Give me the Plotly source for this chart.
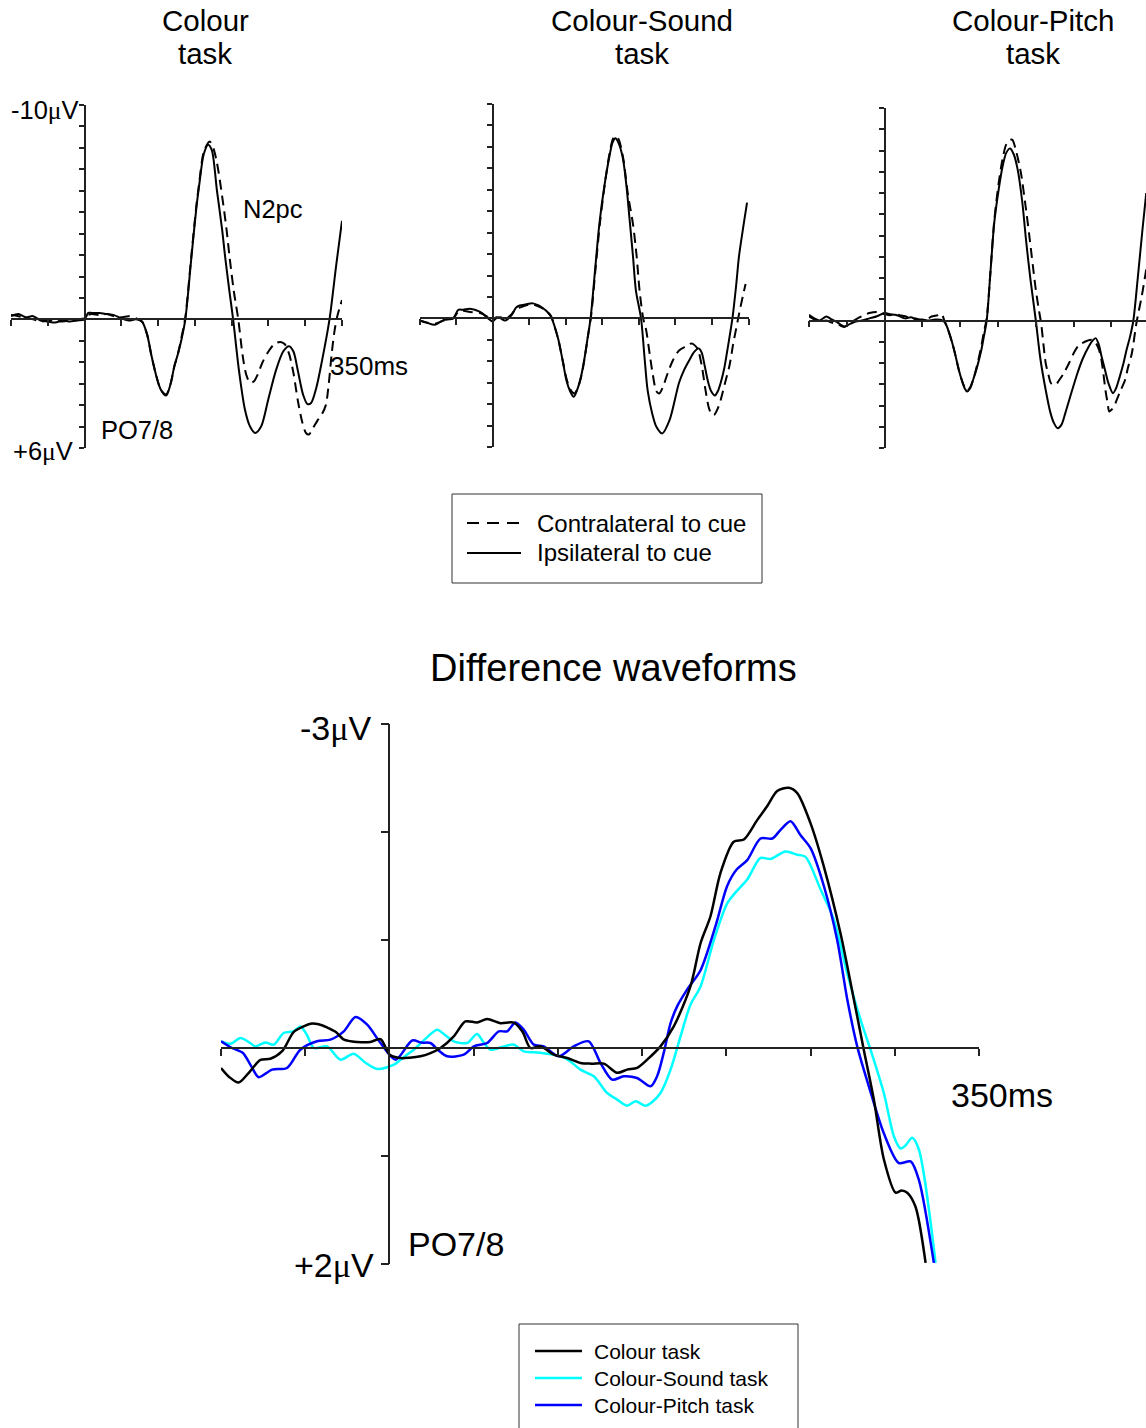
import plotly.graph_objects as go

W, H = 1146, 1428
FONT = "Liberation Sans, Arial, sans-serif"
MU = "<span style=\"font-family:'Liberation Serif'\">\u03bc</span>"

# ---------------- Data: grand-average ERPs at PO7/8 (time in ms, amplitude in microvolts) ----------------
# Colour task
COL_IPSI_T = [-100, -90, -80, -70, -60, -50, -40, -30, -20, -10, 0, 5, 10, 20, 30, 40, 50, 60, 70, 78, 85, 91, 98,
              104, 111, 117, 122, 127, 132, 137, 145, 152, 156, 162, 168, 173, 180, 187, 191, 197, 202, 210, 218, 225,
              232, 240, 250, 260, 270, 278, 284, 290, 297, 303, 308, 315, 323, 333, 342, 350]
COL_IPSI_V = [-0.15, -0.25, -0.1, -0.15, 0.05, 0.1, 0.15, 0.05, 0.1, 0.05, 0.0, -0.3, -0.3, -0.3, -0.25, -0.2, -0.05,
              0.05, 0.0, 0.1, 0.7, 1.7, 2.7, 3.3, 3.55, 3.0, 2.2, 1.6, 0.9, 0.0, -2.8, -5.2, -6.3, -7.7, -8.15, -7.9,
              -6.0, -4.2, -2.95, -1.3, 0.0, 2.4, 4.2, 5.0, 5.3, 5.0, 3.7, 2.4, 1.5, 1.25, 1.5, 2.4, 3.5, 3.95, 3.9, 3.2,
              1.9, 0.0, -2.5, -4.6]
COL_CONTRA_T = [-100, -90, -80, -70, -60, -50, -40, -30, -20, -10, 0, 5, 10, 20, 30, 40, 50, 60, 70, 78, 85, 91, 98,
                104, 111, 117, 122, 127, 132, 137, 145, 152, 156, 162, 170, 175, 180, 186, 193, 197, 203, 209, 215,
                220, 225, 230, 235, 242, 250, 258, 266, 272, 278, 284, 290, 296, 301, 305, 310, 317, 323, 328, 332,
                336, 340, 344, 350]
COL_CONTRA_V = [-0.2, -0.15, -0.05, 0.0, 0.1, 0.05, 0.05, 0.1, 0.05, 0.0, -0.05, -0.2, -0.25, -0.2, -0.25, -0.15,
                -0.1, -0.15, -0.05, 0.1, 0.7, 1.7, 2.7, 3.3, 3.5, 3.0, 2.2, 1.6, 0.8, -0.1, -2.9, -5.3, -6.4, -7.8,
                -8.3, -8.0, -7.3, -6.0, -4.2, -2.95, -1.3, 0.0, 1.7, 2.6, 2.95, 2.9, 2.6, 2.0, 1.5, 1.15, 1.05, 1.15,
                1.6, 2.5, 3.8, 4.8, 5.3, 5.37, 5.1, 4.7, 4.4, 4.0, 3.0, 1.6, 0.5, -0.2, -0.9]

# Colour-Sound task
SND_IPSI_T = [-100, -90, -79, -67, -54, -47, -40, -31, -17, -6, 0, 5, 11, 17, 26, 32, 37, 45, 55, 63, 69, 75, 80, 85,
              90, 96, 101, 106, 111, 116, 121, 126, 130, 134, 140, 146, 153, 160, 164, 168, 172, 178, 183, 187, 192,
              196, 203, 208, 212, 218, 224, 232, 242, 255, 262, 269, 276, 282, 286, 290, 295, 299, 304, 308, 312, 317,
              321, 328, 333, 337, 343, 348]
SND_IPSI_V = [0.08, 0.2, 0.3, 0.08, 0.0, -0.4, -0.4, -0.45, -0.3, 0.0, 0.15, -0.05, 0.0, 0.1, -0.15, -0.5, -0.6,
              -0.65, -0.7, -0.6, -0.47, -0.3, -0.08, 0.4, 1.0, 2.0, 2.9, 3.4, 3.66, 3.3, 2.7, 1.8, 0.9, 0.0, -2.2, -4.4,
              -6.2, -7.6, -8.2, -8.4, -8.2, -7.5, -6.2, -4.75, -2.9, -1.3, 0.0, 1.9, 3.35, 4.4, 5.06, 5.37, 4.75, 3.0,
              2.4, 1.95, 1.55, 1.4, 1.6, 2.2, 3.0, 3.4, 3.6, 3.4, 3.0, 2.3, 1.5, 0.0, -1.5, -2.9, -4.3, -5.4]
SND_CONTRA_T = [-100, -90, -79, -67, -54, -47, -40, -31, -17, -6, 0, 5, 11, 17, 26, 32, 37, 45, 55, 63, 69, 75, 80,
                85, 90, 96, 101, 106, 112, 117, 122, 127, 131, 135, 141, 147, 154, 160, 165, 169, 173, 179, 185, 192,
                197, 201, 206, 210, 215, 219, 224, 228, 233, 238, 246, 255, 265, 272, 280, 286, 291, 296, 300, 303,
                308, 312, 318, 324, 329, 333, 337, 342, 346]
SND_CONTRA_V = [0.1, 0.2, 0.25, 0.1, 0.0, -0.3, -0.35, -0.3, -0.25, -0.05, 0.1, 0.0, -0.05, 0.05, -0.2, -0.45, -0.5,
                -0.6, -0.65, -0.55, -0.45, -0.3, -0.1, 0.4, 1.0, 2.0, 2.8, 3.3, 3.5, 3.2, 2.6, 1.6, 0.7, -0.2, -2.4,
                -4.5, -6.4, -7.7, -8.4, -8.5, -8.3, -7.4, -5.8, -4.4, -2.9, -1.3, 0.0, 0.54, 1.7, 2.6, 3.4, 3.5, 3.2,
                2.7, 2.0, 1.5, 1.3, 1.17, 1.4, 2.2, 3.3, 4.2, 4.5, 4.5, 4.2, 3.8, 3.0, 2.2, 1.2, 0.5, -0.2, -1.0, -1.6]

# Colour-Pitch task
PIT_IPSI_T = [-100, -93, -86, -77, -70, -64, -58, -53, -45, -38, -30, -20, -10, 0, 7, 14, 20, 27, 35, 41, 50, 58, 67,
              75, 80, 84, 89, 93, 98, 102, 106, 109, 113, 117, 123, 128, 131, 135, 140, 145, 151, 156, 161, 166, 171,
              176, 182, 187, 193, 200, 206, 213, 219, 224, 229, 234, 239, 247, 255, 262, 270, 275, 279, 283, 287, 292,
              296, 302, 306, 311, 316, 320, 325, 329, 335, 341, 346]
PIT_IPSI_V = [-0.27, -0.1, 0.0, -0.19, -0.05, 0.05, 0.2, 0.28, 0.15, 0.05, 0.0, -0.1, -0.2, -0.35, -0.3, -0.27, -0.2,
              -0.1, -0.15, -0.06, -0.05, 0.0, -0.05, -0.03, 0.1, 0.44, 1.0, 1.54, 2.3, 2.8, 3.2, 3.34, 3.2, 2.8, 2.1,
              1.38, 0.8, 0.0, -2.3, -4.6, -6.2, -7.25, -7.9, -8.1, -7.8, -7.1, -5.6, -3.8, -1.9, 0.0, 1.8, 3.26, 4.3,
              4.83, 5.07, 4.9, 4.36, 3.4, 2.48, 1.8, 1.22, 0.95, 0.83, 1.1, 1.7, 2.4, 2.95, 3.42, 3.2, 2.64, 2.0, 1.38,
              0.7, 0.0, -2.07, -4.27, -6.0]
PIT_CONTRA_T = [-100, -93, -86, -77, -70, -64, -58, -53, -45, -38, -30, -20, -10, 0, 7, 14, 20, 27, 35, 41, 50, 58,
                62, 70, 75, 80, 84, 89, 93, 98, 102, 106, 109, 113, 117, 123, 128, 131, 135, 140, 145, 151, 156, 161,
                166, 169, 173, 180, 186, 191, 196, 200, 204, 207, 210, 213, 217, 220, 226, 231, 237, 244, 250, 256,
                261, 268, 274, 280, 285, 289, 292, 295, 297, 300, 304, 307, 312, 318, 322, 327, 333, 340, 346]
PIT_CONTRA_V = [-0.2, -0.05, 0.05, 0.0, 0.1, 0.15, 0.25, 0.3, 0.1, -0.05, -0.2, -0.35, -0.4, -0.3, -0.25, -0.3, -0.25,
                -0.2, -0.1, -0.1, 0.0, -0.1, -0.19, -0.25, -0.31, 0.1, 0.44, 1.0, 1.54, 2.3, 2.8, 3.15, 3.3, 3.15, 2.8,
                2.0, 1.2, 0.6, -0.1, -2.3, -4.7, -6.5, -7.6, -8.3, -8.5, -8.5, -8.1, -7.0, -5.5, -4.1, -2.6, -1.44,
                -0.5, 0.13, 1.1, 2.0, 2.6, 2.95, 3.03, 2.8, 2.48, 2.0, 1.54, 1.2, 1.07, 0.95, 0.91, 1.1, 1.54, 2.4,
                3.26, 3.9, 4.28, 4.2, 4.0, 3.73, 3.3, 2.8, 2.2, 1.54, 0.13, -1.13, -2.4]

# Difference waveforms (contralateral minus ipsilateral)
DIFF_COL_T = [-100, -95, -89.5, -83, -76.6, -70.7, -63.7, -56.8, -51, -46.9, -42, -37, -32, -27, -19.2, -11.3, -5.3,
              0.2, 6.5, 12, 18.4, 24, 30.3, 38.2, 45.1, 52, 58, 65.9, 73.8, 79, 83.7, 89.7, 97.6, 105.5, 113.4, 120,
              127.3, 135.2, 141.1, 147, 153, 160.9, 168.8, 178.7, 184.7, 190.6, 196.5, 204.4, 210.4, 218.3, 224.3,
              230.2, 237.1, 242.1, 250, 257.9, 267.8, 275.7, 281.6, 287.6, 293.5, 300.5, 304, 307.4, 312.3, 318.3]
DIFF_COL_V = [0.185, 0.27, 0.32, 0.22, 0.11, 0.10, 0.03, -0.15, -0.2, -0.225, -0.22, -0.19, -0.15, -0.077, -0.056,
              -0.056, -0.083, 0.062, 0.093, 0.09, 0.077, 0.05, 0.0, -0.108, -0.246, -0.237, -0.268, -0.23, -0.235,
              -0.15, 0.0, -0.015, 0.062, 0.093, 0.139, 0.145, 0.145, 0.23, 0.2, 0.185, 0.108, -0.015, -0.2, -0.57,
              -0.97, -1.22, -1.62, -1.91, -1.93, -2.11, -2.24, -2.38, -2.41, -2.36, -2.08, -1.68, -1.06, -0.45, 0.016,
              0.48, 1.03, 1.34, 1.32, 1.34, 1.47, 1.99]
DIFF_SND_T = [-100, -94, -88.5, -83, -79.6, -73.6, -68.7, -62.8, -57, -52.8, -49, -44.9, -37, -29.1, -21.2, -14, -7.3,
              2.6, 8, 14.4, 21, 28.3, 33, 38.2, 46.1, 52, 56, 60, 67.9, 73.8, 79.7, 86, 93.6, 101.5, 107, 113.4, 121.3,
              129.3, 135.2, 141.1, 146.1, 152, 156, 160.9, 166.9, 172.8, 178.7, 184.7, 192.6, 200.5, 206, 212.4,
              220.3, 226.2, 235.1, 242.1, 247, 255.9, 263.8, 271.8, 279.7, 285.6, 293.5, 299.5, 303.4, 306.5, 310.3,
              314.3, 324.2]
DIFF_SND_V = [-0.062, -0.04, -0.093, -0.05, -0.015, -0.052, -0.03, -0.139, -0.154, -0.2, -0.12, 0.0, -0.015, 0.108,
              0.053, 0.139, 0.194, 0.155, 0.09, 0.016, -0.08, -0.17, -0.12, -0.062, -0.046, -0.13, -0.05, 0.016,
              -0.015, -0.031, 0.031, 0.04, 0.053, 0.077, 0.12, 0.2, 0.262, 0.417, 0.478, 0.534, 0.494, 0.534, 0.5,
              0.417, 0.2, -0.108, -0.4, -0.57, -1.0, -1.34, -1.45, -1.56, -1.76, -1.75, -1.82, -1.79, -1.77, -1.47,
              -1.19, -0.69, -0.26, 0.016, 0.417, 0.82, 0.93, 0.9, 0.83, 0.94, 1.99]
DIFF_PIT_T = [-100, -93.5, -87, -82, -77.6, -69.7, -60.8, -52.9, -43, -35, -27.1, -20.2, -13.2, -5.3, 3.6, 13.5, 19,
              24.3, 29, 34.3, 44.1, 50.1, 58, 64.9, 69.9, 74.8, 79.7, 85.7, 91.6, 100.5, 109.4, 118.3, 125.3, 132.2,
              139.1, 147, 155, 158.9, 162.9, 166.9, 170.8, 176.7, 184.7, 193.6, 200.5, 206, 212.4, 220.3, 227.3,
              232.2, 238.1, 244.1, 250, 257.9, 265.8, 271.8, 277.7, 284.6, 293.5, 302.4, 309.4, 314.3, 323.2]
DIFF_PIT_V = [-0.062, 0.0, 0.046, 0.17, 0.27, 0.2, 0.185, 0.016, -0.062, -0.077, -0.154, -0.287, -0.216, -0.046,
              0.108, -0.07, -0.05, -0.046, 0.02, 0.077, 0.062, -0.015, -0.046, -0.154, -0.154, -0.237, -0.17, -0.031,
              -0.015, 0.077, -0.015, -0.062, 0.139, 0.293, 0.262, 0.278, 0.355, 0.262, 0.04, -0.23, -0.385, -0.54,
              -0.72, -1.13, -1.5, -1.65, -1.74, -1.94, -1.94, -2.02, -2.1, -1.97, -1.85, -1.5, -1.0, -0.45, -0.015,
              0.355, 0.79, 1.065, 1.05, 1.22, 1.99]

TOP_TITLES = [("Colour", "task"), ("Colour-Sound", "task"), ("Colour-Pitch", "task")]
TOP_LEGEND = ["Contralateral to cue", "Ipsilateral to cue"]
DIFF_LEGEND = ["Colour task", "Colour-Sound task", "Colour-Pitch task"]
DIFF_COLOURS = ["#000000", "#00FFFF", "#0000FF"]
TIME_TICKS = [-100, -50, 0, 50, 100, 150, 200, 250, 300, 350]
TOP_VOLT_TICKS = list(range(-10, 7))
DIFF_VOLT_TICKS = [-3, -2, -1, 0, 1, 2]


def fx(px):
    return px / W


def fy(py):
    return 1 - py / H


AXCOL = "#222222"
fig = go.Figure()


def add_panel(n, x0, x1, y0, y1, xr, yr, yticks, xticklen, yticklen, lw):
    """Create an axis pair whose horizontal axis crosses at 0 uV and vertical axis at 0 ms."""
    xd = [fx(x0), fx(x1)]
    yd = [fy(y1), fy(y0)]
    xpos = yd[0] + (yd[1] - yd[0]) * (yr[0] - 0) / (yr[0] - yr[1])
    ypos = xd[0] + (xd[1] - xd[0]) * (0 - xr[0]) / (xr[1] - xr[0])
    sfx = "" if n == 1 else str(n)
    fig.layout["xaxis" + sfx] = dict(
        domain=xd, range=xr, anchor="free", position=xpos, showline=True, linecolor=AXCOL,
        linewidth=lw, ticks="outside", ticklen=xticklen, tickwidth=lw, tickcolor=AXCOL,
        tickvals=TIME_TICKS, showticklabels=False, showgrid=False, zeroline=False)
    fig.layout["yaxis" + sfx] = dict(
        domain=yd, range=yr, anchor="free", position=ypos, showline=True, linecolor=AXCOL,
        linewidth=lw, ticks="outside", ticklen=yticklen, tickwidth=lw, tickcolor=AXCOL,
        tickvals=yticks, showticklabels=False, showgrid=False, zeroline=False)
    return "x" + sfx, "y" + sfx


top_geom = [(11, 342, 105, 448, [-100, 350]),
            (419.5, 748.5, 104, 447, [-100, 350]),
            (809, 1146, 108, 448, [-100, 345.7])]
top_data = [(COL_CONTRA_T, COL_CONTRA_V, COL_IPSI_T, COL_IPSI_V),
            (SND_CONTRA_T, SND_CONTRA_V, SND_IPSI_T, SND_IPSI_V),
            (PIT_CONTRA_T, PIT_CONTRA_V, PIT_IPSI_T, PIT_IPSI_V)]

for i, (g, d) in enumerate(zip(top_geom, top_data)):
    xa, ya = add_panel(i + 1, g[0], g[1], g[2], g[3], g[4], [6, -10], TOP_VOLT_TICKS, 6, 5, 1.5)
    fig.add_trace(go.Scatter(x=d[0], y=d[1], mode="lines", xaxis=xa, yaxis=ya, showlegend=False,
                             line=dict(color="black", width=2, dash="10px,6px", shape="spline", smoothing=0.8)))
    fig.add_trace(go.Scatter(x=d[2], y=d[3], mode="lines", xaxis=xa, yaxis=ya, showlegend=False,
                             line=dict(color="black", width=2, shape="spline", smoothing=0.8)))

xa, ya = add_panel(4, 221, 979, 724, 1264, [-100, 350], [2, -3], DIFF_VOLT_TICKS, 7, 8, 1.5)
# cyan first, then blue, then black on top
for t, v, c in [(DIFF_SND_T, DIFF_SND_V, DIFF_COLOURS[1]), (DIFF_PIT_T, DIFF_PIT_V, DIFF_COLOURS[2]),
                (DIFF_COL_T, DIFF_COL_V, DIFF_COLOURS[0])]:
    fig.add_trace(go.Scatter(x=t, y=v, mode="lines", xaxis=xa, yaxis=ya, showlegend=False,
                             line=dict(color=c, width=2.5, shape="spline", smoothing=0.8)))

ann = []


def label(text, x, y, size, xanchor="left"):
    ann.append(dict(text=text, x=fx(x), y=fy(y), xref="paper", yref="paper", xanchor=xanchor,
                    yanchor="middle", showarrow=False, font=dict(family=FONT, size=size, color="black")))


# panel titles
for (l1, l2), cx in zip(TOP_TITLES, [205, 642, 1033]):
    label(l1, cx, 21, 29.5, "center")
    label(l2, cx, 54, 29.5, "center")

label("-10" + MU + "V", 81, 111, 25.5, "right")
label("+6" + MU + "V", 75, 451, 25.5, "right")
label("N2pc", 241, 209, 25.5)
label("350ms", 328, 366, 26)
label("PO7/8", 99, 430, 25.5)

label("Difference waveforms", 613, 668, 38, "center")
label("-3" + MU + "V", 373, 728, 34, "right")
label("+2" + MU + "V", 376, 1265, 34, "right")
label("350ms", 949, 1095, 34)
label("PO7/8", 406, 1244, 34)

shapes = []
# key for the top panels
shapes.append(dict(type="rect", xref="paper", yref="paper", x0=fx(452), x1=fx(762), y0=fy(583), y1=fy(494),
                   line=dict(color="#333333", width=1)))
shapes.append(dict(type="line", xref="paper", yref="paper", x0=fx(467), x1=fx(521), y0=fy(523), y1=fy(523),
                   line=dict(color="black", width=2, dash="12px,8px")))
shapes.append(dict(type="line", xref="paper", yref="paper", x0=fx(467), x1=fx(521), y0=fy(553), y1=fy(553),
                   line=dict(color="black", width=2)))
label(TOP_LEGEND[0], 535, 523, 24)
label(TOP_LEGEND[1], 535, 553, 24)

# key for the difference waveforms
shapes.append(dict(type="rect", xref="paper", yref="paper", x0=fx(519), x1=fx(798), y0=fy(1440), y1=fy(1324),
                   line=dict(color="#333333", width=1)))
for i, (name, c) in enumerate(zip(DIFF_LEGEND, DIFF_COLOURS)):
    yy = 1351 + 27 * i
    shapes.append(dict(type="line", xref="paper", yref="paper", x0=fx(535), x1=fx(582), y0=fy(yy), y1=fy(yy),
                       line=dict(color=c, width=2.5)))
    label(name, 592, yy, 21)

fig.update_layout(width=W, height=H, autosize=False, margin=dict(l=0, r=0, t=0, b=0),
                  paper_bgcolor="white", plot_bgcolor="white", annotations=ann, shapes=shapes,
                  font=dict(family=FONT, color="black"))

fig.write_html("out.html")
